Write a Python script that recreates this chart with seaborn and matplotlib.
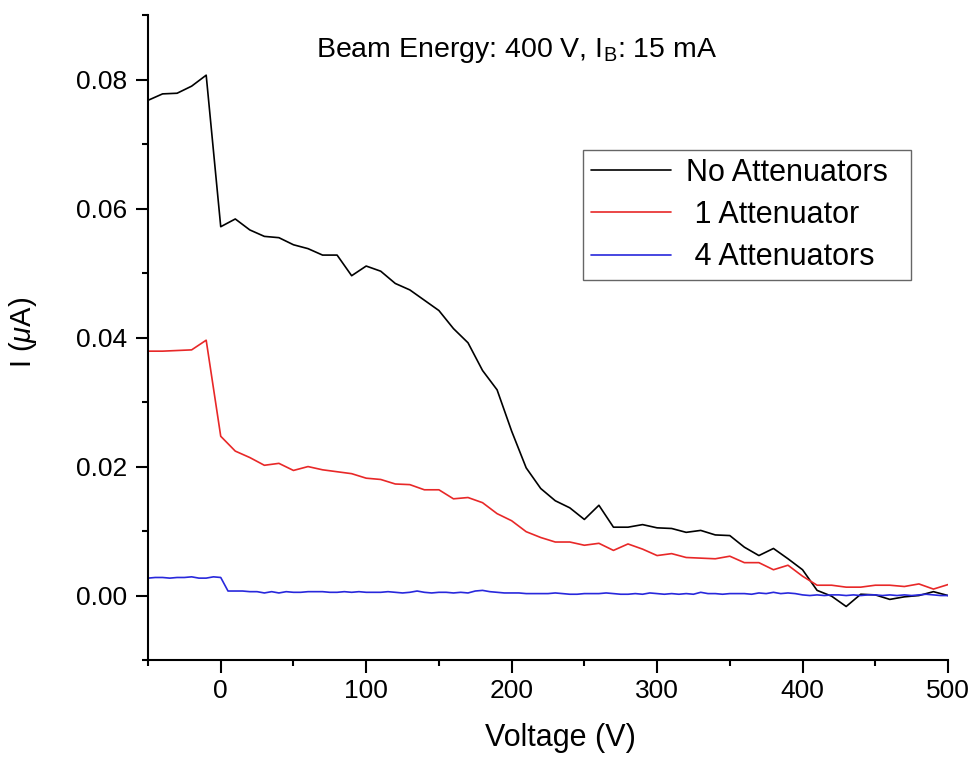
import numpy as np
import pandas as pd
import matplotlib
matplotlib.use("Agg")
import matplotlib.pyplot as plt
import seaborn as sns
from matplotlib.ticker import MultipleLocator

# voltage grids
v_coarse = list(range(-50, 501, 10))
v_fine = list(range(-50, 501, 5))

# current in uA
no_att = [0.0768, 0.0778, 0.0779, 0.0790, 0.0807, 0.0572, 0.0584, 0.0567, 0.0557, 0.0555,
          0.0544, 0.0538, 0.0528, 0.0528, 0.0496, 0.0511, 0.0503, 0.0484, 0.0474, 0.0458,
          0.0442, 0.0414, 0.0392, 0.0349, 0.0319, 0.0255, 0.0198, 0.0166, 0.0147, 0.0136,
          0.0118, 0.0140, 0.0106, 0.0106, 0.0110, 0.0105, 0.0104, 0.0098, 0.0101, 0.0094,
          0.0093, 0.0075, 0.0062, 0.0073, 0.0057, 0.0040, 0.0008, -0.0001, -0.0017, 0.0002,
          0.0001, -0.0006, -0.0002, 0.0000, 0.0006, 0.0000]

one_att = [0.0379, 0.0379, 0.0380, 0.0381, 0.0396, 0.0247, 0.0224, 0.0214, 0.0202, 0.0205,
           0.0194, 0.0200, 0.0195, 0.0192, 0.0189, 0.0182, 0.0180, 0.0173, 0.0172, 0.0164,
           0.0164, 0.0150, 0.0152, 0.0144, 0.0127, 0.0116, 0.0099, 0.0090, 0.0083, 0.0083,
           0.0078, 0.0081, 0.0070, 0.0080, 0.0072, 0.0062, 0.0065, 0.0059, 0.0058, 0.0057,
           0.0061, 0.0051, 0.0051, 0.0040, 0.0047, 0.0030, 0.0016, 0.0016, 0.0013, 0.0013,
           0.0016, 0.0016, 0.0014, 0.0018, 0.0010, 0.0017]

four_att = [0.0027, 0.0028, 0.0028, 0.0027, 0.0028, 0.0028, 0.0029, 0.0027, 0.0027, 0.0029, 0.0028,
            0.0007, 0.0007, 0.0007, 0.0006, 0.0006, 0.0004, 0.0006, 0.0004, 0.0006, 0.0005,
            0.0005, 0.0006, 0.0006, 0.0006, 0.0005, 0.0005, 0.0006, 0.0005, 0.0006, 0.0005,
            0.0005, 0.0005, 0.0006, 0.0005, 0.0004, 0.0005, 0.0007, 0.0005, 0.0004, 0.0005,
            0.0005, 0.0004, 0.0005, 0.0004, 0.0007, 0.0008, 0.0006, 0.0005, 0.0004, 0.0004,
            0.0004, 0.0003, 0.0003, 0.0003, 0.0003, 0.0004, 0.0003, 0.0002, 0.0002, 0.0003,
            0.0003, 0.0003, 0.0004, 0.0003, 0.0002, 0.0002, 0.0003, 0.0002, 0.0004, 0.0003,
            0.0002, 0.0003, 0.0002, 0.0003, 0.0002, 0.0005, 0.0003, 0.0003, 0.0002, 0.0003,
            0.0003, 0.0003, 0.0002, 0.0004, 0.0003, 0.0005, 0.0003, 0.0004, 0.0003, 0.0001,
            0.0000, 0.0001, 0.0000, 0.0001, 0.0001, 0.0000, 0.0001, 0.0000, 0.0001, 0.0001,
            0.0000, 0.0001, 0.0000, 0.0001, 0.0000, 0.0001, 0.0002, 0.0001, 0.0000, 0.0000]

# leading space roughly centres the shorter labels like the original legend
labels = ["No Attenuators", " 1 Attenuator", " 4 Attenuators"]
colors = ["black", "#e82828", "#2828dc"]
yticks = [0.0, 0.02, 0.04, 0.06, 0.08]
yticklabels = ["0.00", "0.02", "0.04", "0.06", "0.08"]

sns.set_style("ticks")
plt.rcParams['font.family'] = ['Liberation Sans', 'DejaVu Sans']
plt.rcParams['mathtext.fontset'] = 'custom'
plt.rcParams['mathtext.rm'] = 'Liberation Sans'
plt.rcParams['mathtext.it'] = 'Liberation Sans:italic'
plt.rcParams['text.color'] = 'black'
plt.rcParams['axes.labelcolor'] = 'black'
plt.rcParams['xtick.color'] = 'black'
plt.rcParams['ytick.color'] = 'black'
plt.rcParams['axes.edgecolor'] = 'black'

fig = plt.figure(figsize=(9.75, 7.61), dpi=100)
ax = fig.add_axes([0.1518, 0.1327, 0.8205, 0.8473])

series = [(v_coarse, no_att), (v_coarse, one_att), (v_fine, four_att)]
for (vx, vy), lab, col in zip(series, labels, colors):
    df = pd.DataFrame({"Voltage": vx, "I": vy})
    sns.lineplot(data=df, x="Voltage", y="I", ax=ax, color=col, linewidth=1.2, label=lab)

ax.set_xlim(-50, 500)
ax.set_ylim(-0.01, 0.09)
ax.xaxis.set_major_locator(MultipleLocator(100))
ax.xaxis.set_minor_locator(MultipleLocator(50))
ax.yaxis.set_minor_locator(MultipleLocator(0.01))
ax.set_yticks(yticks)
ax.set_yticklabels(yticklabels)
ax.tick_params(which='major', direction='out', length=9, width=1.5, labelsize=19)
ax.tick_params(axis='x', which='major', pad=5)
ax.tick_params(axis='y', which='major', pad=6)
ax.tick_params(which='minor', direction='out', length=4.5, width=1.5)
for s in ['top', 'right']:
    ax.spines[s].set_visible(False)
for s in ['left', 'bottom']:
    ax.spines[s].set_linewidth(1.5)

ax.set_xlabel("Voltage (V)", fontsize=22)
ax.xaxis.set_label_coords(0.516, -0.098)
ax.set_ylabel(r"I ($\mu$A)", fontsize=21)
ax.yaxis.set_label_coords(-0.136, 0.508)
ax.text(0.461, 0.935, r"Beam Energy: 400 V, I$_\mathrm{B}$: 15 mA", transform=ax.transAxes,
        ha='center', va='baseline', fontsize=20.5)

leg = ax.legend(loc='upper left', bbox_to_anchor=(0.544, 0.591, 0.41, 0.2), mode='expand',
                fontsize=22, frameon=True, fancybox=False, handlelength=2.6, borderpad=0.26,
                labelspacing=0.4, handletextpad=0.5, borderaxespad=0)
leg.get_frame().set_edgecolor('#666666')
leg.get_frame().set_linewidth(1.0)
leg.get_frame().set_alpha(1.0)
for h in leg.get_lines():
    h.set_linewidth(1.2)

fig.savefig("out.png", dpi=100)
